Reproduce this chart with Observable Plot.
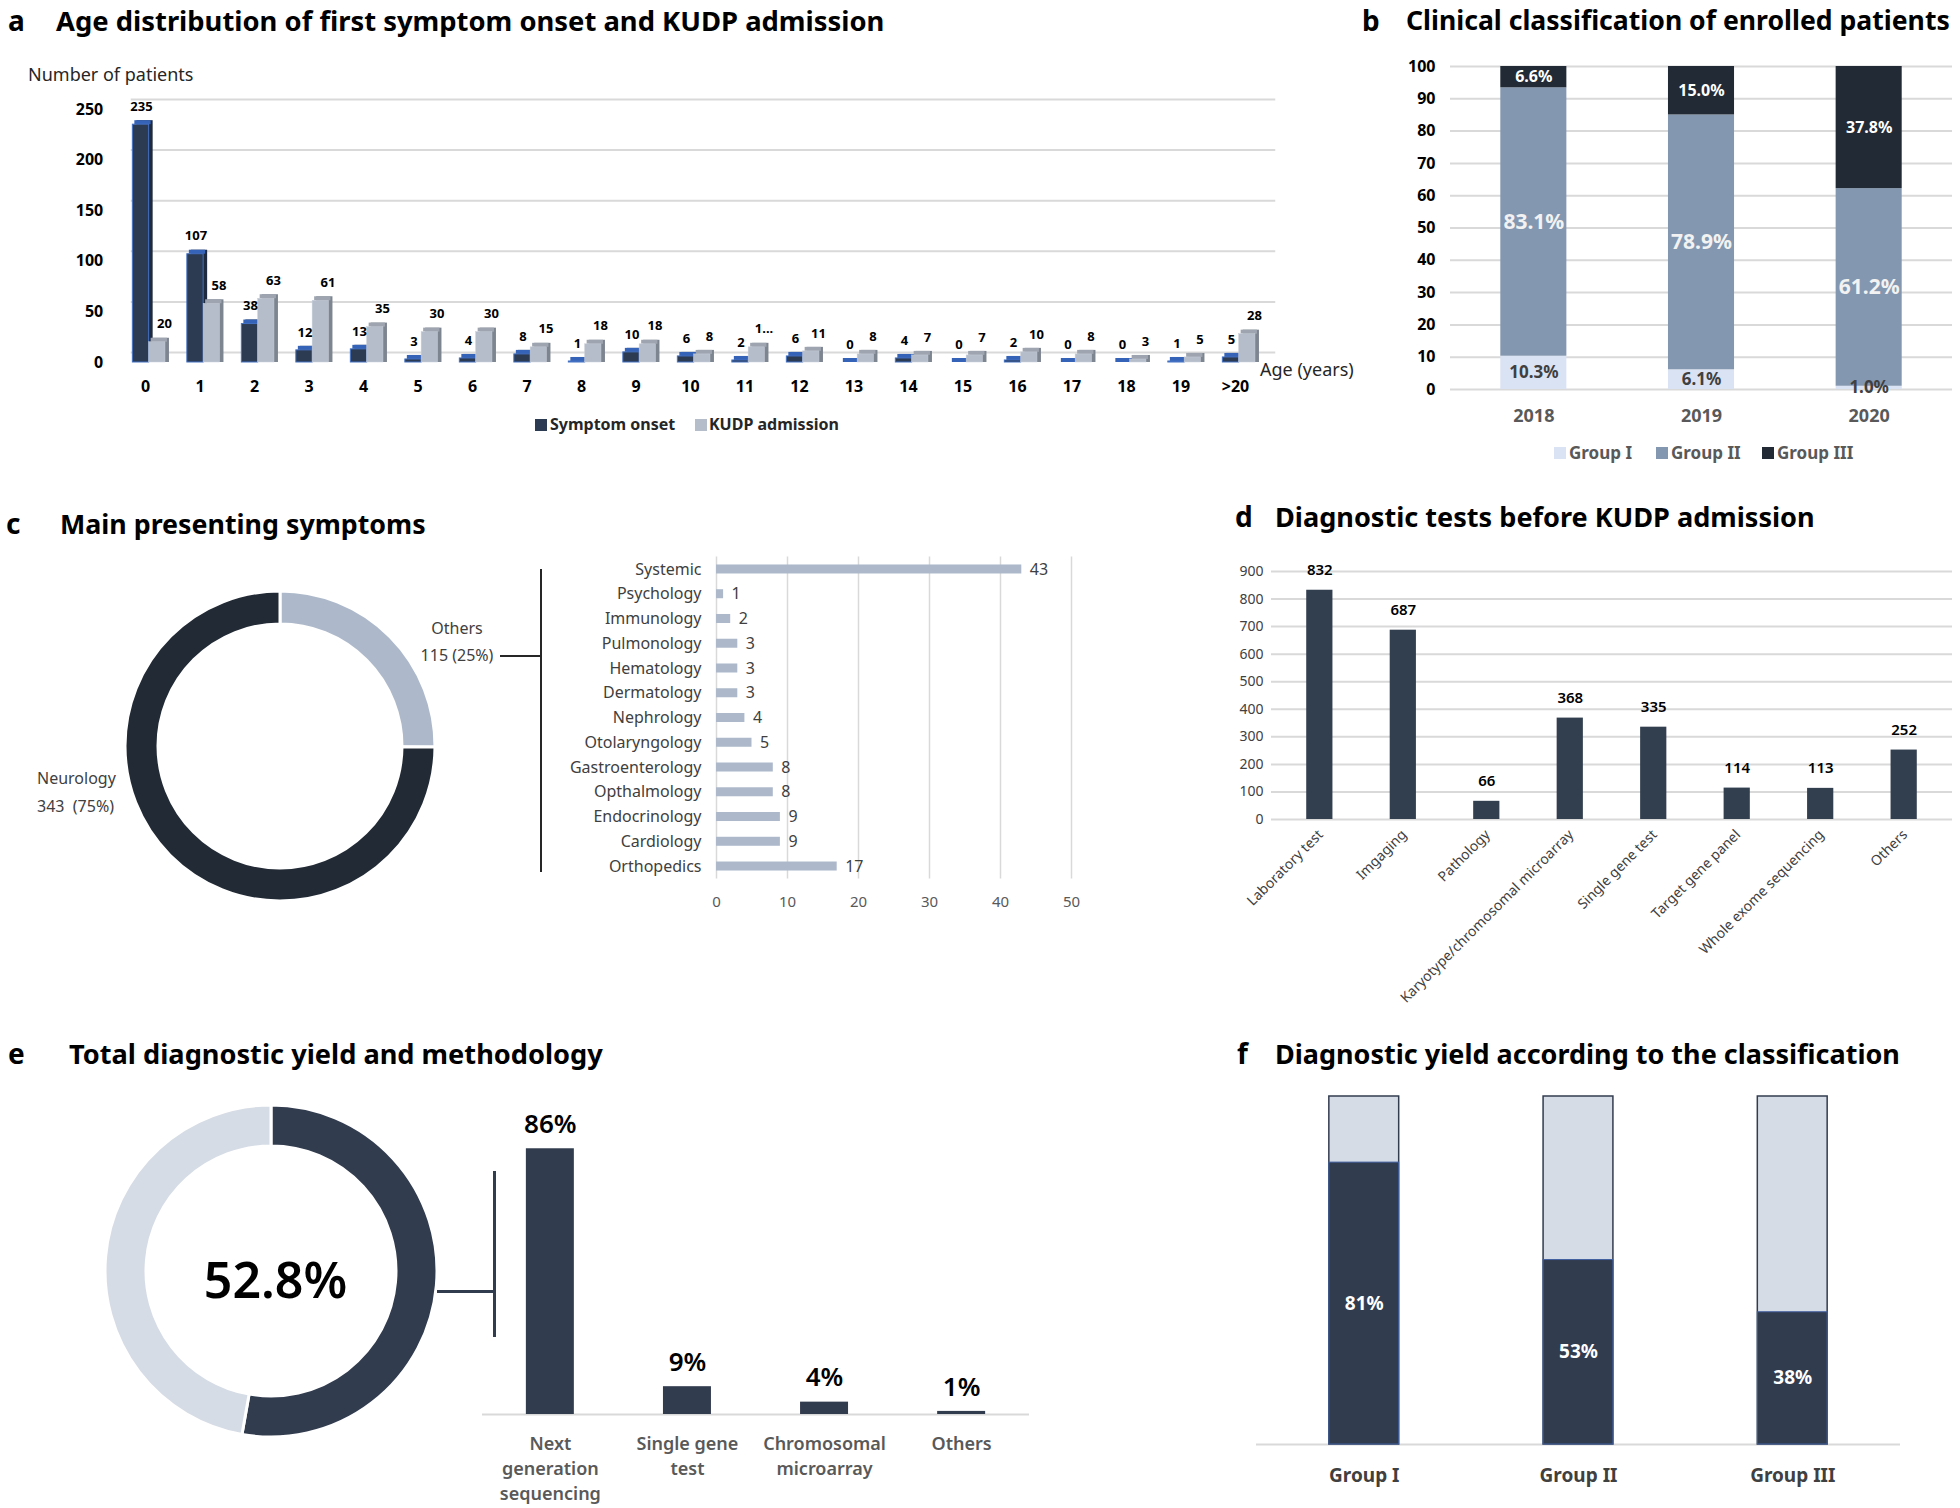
<!DOCTYPE html>
<html>
<head>
<meta charset="utf-8">
<script src="https://cdn.jsdelivr.net/npm/d3@7"></script>
<script src="https://cdn.jsdelivr.net/npm/@observablehq/plot@0.6"></script>
<style>
  html, body { margin: 0; padding: 0; background: #fff; }
  #root { position: relative; width: 1960px; height: 1508px; overflow: hidden; background: #fff; font-family: "Noto Sans", "DejaVu Sans", sans-serif; }
  #root svg { overflow: visible; }
</style>
</head>
<body>
<div id="root"></div>
<script>
// ---------------- DATA ----------------
// (a) Age distribution
const ageCategories = ["0","1","2","3","4","5","6","7","8","9","10","11","12","13","14","15","16","17","18","19",">20"];
const symptomOnset  = [235,107,38,12,13,3,4,8,1,10,6,2,6,0,4,0,2,0,0,1,5];
const kudpAdmission = [20,58,63,61,35,30,30,15,18,18,8,15,11,8,7,7,10,8,3,5,28];
const kudpAdmissionLabels = ["20","58","63","61","35","30","30","15","18","18","8","1...","11","8","7","7","10","8","3","5","28"];
const ageTicks = [0,50,100,150,200,250];

// (b) Clinical classification
const years = ["2018","2019","2020"];
const groups = ["Group I","Group II","Group III"];
const groupI   = [10.3, 6.1, 1.0];
const groupII  = [83.1, 78.9, 61.2];
const groupIII = [6.6, 15.0, 37.8];
const pctTicks = [0,10,20,30,40,50,60,70,80,90,100];

// (c) Main presenting symptoms
const symptomSlices = ["Others","Neurology"];
const symptomCounts = [115, 343];
const symptomPercents = ["25%","75%"];
const otherCategories = ["Systemic","Psychology","Immunology","Pulmonology","Hematology","Dermatology","Nephrology","Otolaryngology","Gastroenterology","Opthalmology","Endocrinology","Cardiology","Orthopedics"];
const otherCounts = [43,1,2,3,3,3,4,5,8,8,9,9,17];
const otherTicks = [0,10,20,30,40,50];

// (d) Diagnostic tests before KUDP admission
const testCategories = ["Laboratory test","Imgaging","Pathology","Karyotype/chromosomal microarray","Single gene test","Target gene panel","Whole exome sequencing","Others"];
const testCounts = [832,687,66,368,335,114,113,252];
const testTicks = [0,100,200,300,400,500,600,700,800,900];

// (e) Total diagnostic yield and methodology
const yieldSlices = ["Diagnosed","Undiagnosed"];
const yieldValues = [52.8, 47.2];
const totalYieldLabel = "52.8%";
const methods = ["Next\ngeneration\nsequencing","Single gene\ntest","Chromosomal\nmicroarray","Others"];
const methodShares = [86, 9, 4, 1];

// (f) Diagnostic yield according to the classification
const classGroups = ["Group I","Group II","Group III"];
const classYield = [81, 53, 38];

// ---------------- HELPERS ----------------
const FONT = '"Noto Sans", "DejaVu Sans", sans-serif';
const root = document.getElementById("root");
function place(node, left, top) {
  node.style.position = "absolute";
  node.style.left = left + "px";
  node.style.top = top + "px";
  root.appendChild(node);
}
function label(text, left, cy, css = {}, center = false) {
  const d = document.createElement("div");
  d.textContent = text;
  Object.assign(d.style, {
    position: "absolute", left: left + "px", top: cy + "px",
    transform: center ? "translate(-50%,-50%)" : "translateY(-50%)",
    whiteSpace: "pre", fontFamily: FONT, lineHeight: "1.2", color: "#000"
  }, css);
  root.appendChild(d);
}
function hline(x1, x2, y, w, color) {
  const d = document.createElement("div");
  Object.assign(d.style, {position: "absolute", left: x1 + "px", top: (y - w / 2) + "px", width: (x2 - x1) + "px", height: w + "px", background: color});
  root.appendChild(d);
}
function vline(x, y1, y2, w, color) {
  const d = document.createElement("div");
  Object.assign(d.style, {position: "absolute", left: (x - w / 2) + "px", top: y1 + "px", width: w + "px", height: (y2 - y1) + "px", background: color});
  root.appendChild(d);
}
function swatch(left, cy, size, color) {
  const d = document.createElement("div");
  Object.assign(d.style, {position: "absolute", left: left + "px", top: (cy - size / 2) + "px", width: size + "px", height: size + "px", background: color});
  root.appendChild(d);
}
function title(letter, text, xLetter, xText, cy, size = 27) {
  label(letter, xLetter, cy, {fontSize: "28px", fontWeight: 700, lineHeight: "1.4"});
  label(text, xText, cy, {fontSize: size + "px", fontWeight: 700, lineHeight: "1.4"});
}
// donut render mark (uses d3.pie / d3.arc)
function donutMark(names, values, colors, rOut, rIn) {
  return (index, scales, channels, dims) => {
    const cx = dims.marginLeft + (dims.width - dims.marginLeft - dims.marginRight) / 2;
    const cy = dims.marginTop + (dims.height - dims.marginTop - dims.marginBottom) / 2;
    const data = names.map((n, i) => ({name: n, value: values[i], color: colors[i]}));
    const arcs = d3.pie().sort(null).value(d => d.value)(data);
    const arc = d3.arc().innerRadius(rIn).outerRadius(rOut);
    const g = d3.create("svg:g").attr("transform", `translate(${cx},${cy})`);
    g.selectAll("path").data(arcs).join("path")
      .attr("d", arc).attr("fill", d => d.data.color)
      .attr("stroke", "#fff").attr("stroke-width", 3);
    return g.node();
  };
}
const baseStyle = {fontFamily: FONT, background: "none", overflow: "visible"};

// ---------------- PANEL A ----------------
title("a", "Age distribution of first symptom onset and KUDP admission", 8, 56, 20.5, 27.4);
label("Number of patients", 28, 75, {fontSize: "18px", color: "#262626"});
label("Age (years)", 1260, 370, {fontSize: "18px", color: "#262626"});
{
  const data = ageCategories.map((c, i) => ({age: c, onset: symptomOnset[i], adm: kudpAdmission[i], admLabel: kudpAdmissionLabels[i]}));
  const onsetIns = {insetLeft: 14.6, insetRight: 23.6};
  const admIns = {insetLeft: 30.9, insetRight: 7.3};
  const p = Plot.plot({
    width: 1300, height: 320, marginTop: 19, marginBottom: 48, marginLeft: 117.75, marginRight: 37.75,
    style: baseStyle,
    x: {domain: ageCategories, padding: 0, round: false, axis: null},
    y: {domain: [0, 250], axis: null},
    marks: [
      Plot.ruleY(ageTicks, {stroke: "#d9d9d9", strokeWidth: 2, dx: 13, dy: -10}),
      Plot.text(ageTicks, {y: d => d, frameAnchor: "left", textAnchor: "end", dx: -15, fontSize: 16, fontWeight: 700, fill: "#000"}),
      Plot.text(ageCategories, {x: d => d, frameAnchor: "bottom", dy: 29, fontSize: 16, fontWeight: 700, fill: "#000"}),
      // 3D side faces
      Plot.barY(data, {x: "age", y: "onset", fill: "#1e2a40", dx: 4, insetTop: -4, ...onsetIns}),
      Plot.barY(data, {x: "age", y: "adm", fill: "#7d8591", dx: 4, insetTop: -4, ...admIns}),
      // 3D top faces
      Plot.barY(data, {x: "age", y1: "onset", y2: "onset", fill: "#3563b8", dx: 2, insetTop: -4, ...onsetIns}),
      Plot.barY(data, {x: "age", y1: "adm", y2: "adm", fill: "#9ea5b0", dx: 2, insetTop: -4, ...admIns}),
      // front faces
      Plot.barY(data, {x: "age", y: "onset", fill: "#2c3a52", stroke: "#4472c4", strokeWidth: 1, ...onsetIns}),
      Plot.barY(data, {x: "age", y: "adm", fill: "#b5bdcb", stroke: "#c9cfd9", strokeWidth: 0.5, ...admIns}),
      Plot.text(data, {x: "age", y: "onset", text: d => String(d.onset), dx: -4, dy: -18, fontSize: 13, fontWeight: 700, fill: "#000"}),
      Plot.text(data, {x: "age", y: "adm", text: "admLabel", dx: 19, dy: -18, fontSize: 13, fontWeight: 700, fill: "#000"})
    ]
  });
  place(p, 0, 90);
}
swatch(535, 425, 12, "#2c3a52");
label("Symptom onset", 550, 425, {fontSize: "16px", fontWeight: 700, color: "#262626"});
swatch(695, 425, 12, "#b5bdcb");
label("KUDP admission", 709, 425, {fontSize: "16px", fontWeight: 700, color: "#262626"});

// ---------------- PANEL B ----------------
title("b", "Clinical classification of enrolled patients", 1362, 1406, 20.5, 26.6);
{
  const data = years.flatMap((yr, i) => [
    {year: yr, group: groups[0], v: groupI[i]},
    {year: yr, group: groups[1], v: groupII[i]},
    {year: yr, group: groups[2], v: groupIII[i]}
  ]);
  const lab = g => d => d.group === g ? d.v.toFixed(1) + "%" : "";
  const p = Plot.plot({
    width: 598, height: 400, marginTop: 26, marginBottom: 51, marginLeft: 88, marginRight: 8,
    style: baseStyle,
    x: {domain: years, paddingInner: 0.606, paddingOuter: 0.3, round: false, axis: null},
    y: {domain: [0, 100], axis: null},
    color: {domain: groups, range: ["#dae3f3", "#8497b0", "#222a35"]},
    marks: [
      Plot.ruleY(pctTicks, {stroke: "#d9d9d9", strokeWidth: 2}),
      Plot.text(pctTicks, {y: d => d, frameAnchor: "left", textAnchor: "end", dx: -15, fontSize: 16, fontWeight: 700, fill: "#000"}),
      Plot.text(years, {x: d => d, frameAnchor: "bottom", dy: 32, fontSize: 18, fontWeight: 700, fill: "#595959"}),
      Plot.barY(data, {x: "year", y: "v", fill: "group"}),
      Plot.text(data, Plot.stackY({x: "year", y: "v", text: lab("Group I"), fontSize: 17, fontWeight: 700, fill: "#404040"})),
      Plot.text(data, Plot.stackY({x: "year", y: "v", text: lab("Group II"), fontSize: 21, fontWeight: 700, fill: "#f2f2f2"})),
      Plot.text(data, Plot.stackY({x: "year", y: "v", text: lab("Group III"), fontSize: 16, fontWeight: 700, fill: "#ffffff"}))
    ]
  });
  place(p, 1362, 40);
}
swatch(1554, 453, 12, "#dae3f3");
label("Group I", 1569, 453, {fontSize: "17px", fontWeight: 700, color: "#595959"});
swatch(1656, 453, 12, "#8497b0");
label("Group II", 1671, 453, {fontSize: "17px", fontWeight: 700, color: "#595959"});
swatch(1762, 453, 12, "#222a35");
label("Group III", 1777, 453, {fontSize: "17px", fontWeight: 700, color: "#595959"});

// ---------------- PANEL C ----------------
title("c", "Main presenting symptoms", 6, 60, 524, 26.8);
{
  const p = Plot.plot({
    width: 370, height: 370, margin: 0, style: baseStyle,
    marks: [donutMark(symptomSlices, symptomCounts, ["#adb9ca", "#222a35"], 155, 122)]
  });
  place(p, 95, 561);
}
label(symptomSlices[0], 457, 629, {fontSize: "16px", color: "#404040"}, true);
label(`${symptomCounts[0]} (${symptomPercents[0]})`, 457, 656, {fontSize: "16px", color: "#404040"}, true);
label(symptomSlices[1], 37, 779, {fontSize: "16px", color: "#404040"});
label(`${symptomCounts[1]}  (${symptomPercents[1]})`, 37, 807, {fontSize: "16px", color: "#404040"});
hline(500, 542, 656, 2, "#262626");
vline(541, 569, 872, 2, "#262626");
{
  const data = otherCategories.map((c, i) => ({cat: c, n: otherCounts[i]}));
  const p = Plot.plot({
    width: 700, height: 400, marginTop: 16.6, marginBottom: 61.6, marginLeft: 296, marginRight: 49,
    style: baseStyle,
    x: {domain: [0, 50], axis: null},
    y: {domain: otherCategories, paddingInner: 0.636, paddingOuter: 0.318, round: false, axis: null},
    marks: [
      Plot.ruleX(otherTicks, {stroke: "#d9d9d9", strokeWidth: 1.5}),
      Plot.text(otherTicks, {x: d => d, frameAnchor: "bottom", dy: 28, fontSize: 15, fill: "#595959"}),
      Plot.text(otherCategories, {y: d => d, frameAnchor: "left", textAnchor: "end", dx: -15, fontSize: 16, fill: "#404040"}),
      Plot.barX(data, {x: "n", y: "cat", fill: "#adb9ca"}),
      Plot.text(data, {x: "n", y: "cat", text: d => String(d.n), textAnchor: "start", dx: 8, fontSize: 16, fill: "#404040"})
    ]
  });
  place(p, 420, 540);
}

// ---------------- PANEL D ----------------
title("d", "Diagnostic tests before KUDP admission", 1235, 1275, 517, 27.1);
{
  const data = testCategories.map((c, i) => ({cat: c, n: testCounts[i]}));
  const p = Plot.plot({
    width: 735, height: 480, marginTop: 31, marginBottom: 201, marginLeft: 46, marginRight: 8,
    style: baseStyle,
    x: {domain: testCategories, paddingInner: 0.686, paddingOuter: 0.422, round: false, axis: null},
    y: {domain: [0, 900], axis: null},
    marks: [
      Plot.ruleY(testTicks, {stroke: "#d9d9d9", strokeWidth: 2}),
      Plot.text(testTicks, {y: d => d, frameAnchor: "left", textAnchor: "end", dx: -8, fontSize: 14, fill: "#404040"}),
      Plot.text(testCategories, {x: d => d, frameAnchor: "bottom", rotate: -45, textAnchor: "end", dx: 4, dy: 16, fontSize: 14, fill: "#404040"}),
      Plot.barY(data, {x: "cat", y: "n", fill: "#323f4f"}),
      Plot.text(data, {x: "cat", y: "n", text: d => String(d.n), dy: -20, fontSize: 15, fontWeight: 600, fill: "#000"})
    ]
  });
  place(p, 1225, 540);
}

// ---------------- PANEL E ----------------
title("e", "Total diagnostic yield and methodology", 8, 69, 1054, 27.2);
{
  const p = Plot.plot({
    width: 370, height: 370, margin: 0, style: baseStyle,
    marks: [
      donutMark(yieldSlices, yieldValues, ["#323c4f", "#d6dce5"], 166, 125),
      Plot.text([totalYieldLabel], {text: d => d, frameAnchor: "middle", dx: 4, dy: 10, fontSize: 50, fontWeight: 600, fill: "#000"})
    ]
  });
  place(p, 86, 1086);
}
hline(437, 495, 1291, 3, "#323c4f");
vline(494, 1171, 1337, 3, "#323c4f");
{
  const data = methods.map((m, i) => ({m, v: methodShares[i]}));
  const p = Plot.plot({
    width: 580, height: 428, marginTop: 25, marginBottom: 94, marginLeft: 12, marginRight: 21,
    style: baseStyle,
    x: {domain: methods, paddingInner: 0.65, paddingOuter: 0.32, round: false, axis: null},
    y: {domain: [0, 100], axis: null},
    marks: [
      Plot.ruleY([0], {stroke: "#d9d9d9", strokeWidth: 2}),
      Plot.barY(data, {x: "m", y: "v", fill: "#323c4f"}),
      Plot.text(data, {x: "m", y: "v", text: d => d.v + "%", dy: -24, fontSize: 26, fontWeight: 600, fill: "#000"}),
      Plot.text(methods, {x: d => d, frameAnchor: "bottom", lineAnchor: "top", dy: 18, lineHeight: 1.39, fontSize: 18, fontWeight: 600, fill: "#595959"})
    ]
  });
  place(p, 470, 1080);
}

// ---------------- PANEL F ----------------
title("f", "Diagnostic yield according to the classification", 1237, 1275, 1054, 27);
{
  const data = classGroups.map((g, i) => ({g, v: classYield[i], total: 100}));
  const p = Plot.plot({
    width: 735, height: 428, marginTop: 16, marginBottom: 64, marginLeft: 31, marginRight: 60,
    style: baseStyle,
    x: {domain: classGroups, paddingInner: 0.674, paddingOuter: 0.34, round: false, axis: null},
    y: {domain: [0, 100], axis: null},
    marks: [
      Plot.ruleY([0], {stroke: "#d9d9d9", strokeWidth: 2}),
      Plot.barY(data, {x: "g", y: "total", fill: "#d6dce5", stroke: "#323c4f", strokeWidth: 1.5}),
      Plot.barY(data, {x: "g", y: "v", fill: "#323c4f", stroke: "#3f5f9f", strokeWidth: 1}),
      Plot.text(data, Plot.stackY({x: "g", y: "v", text: d => d.v + "%", fontSize: 19, fontWeight: 700, fill: "#fff"})),
      Plot.text(classGroups, {x: d => d, frameAnchor: "bottom", dy: 37, fontSize: 19, fontWeight: 700, fill: "#404040"})
    ]
  });
  place(p, 1225, 1080);
}
</script>
</body>
</html>
